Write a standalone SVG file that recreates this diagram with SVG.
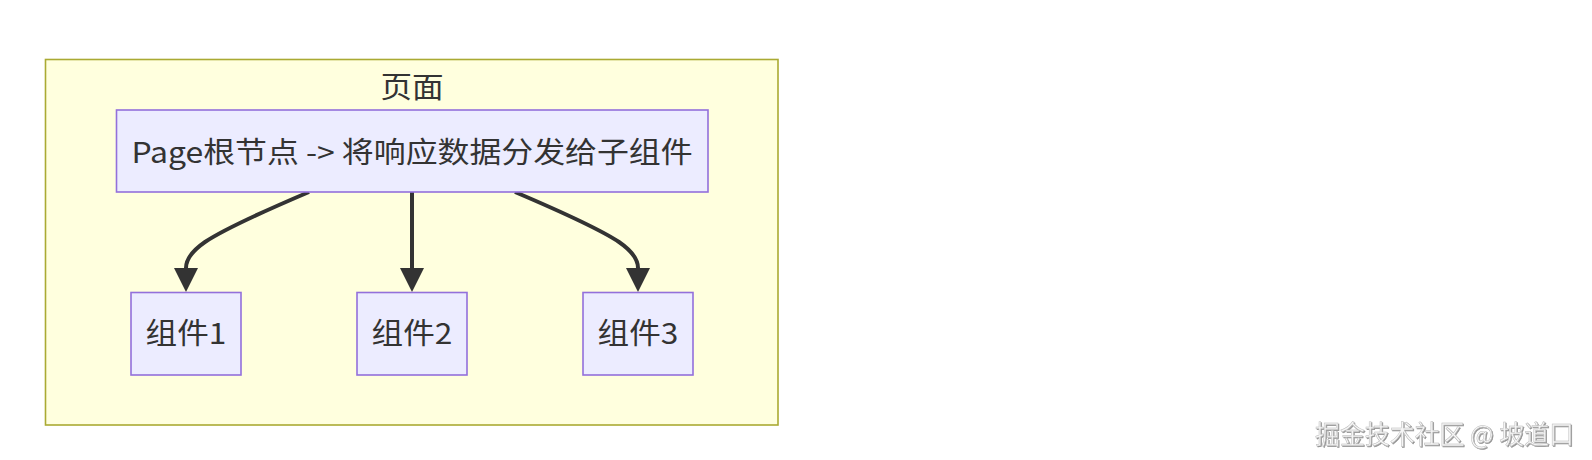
<svg xmlns="http://www.w3.org/2000/svg" width="1592" height="460" viewBox="0 0 1592 460">
  <style>
    .cluster { fill: #ffffde; stroke: #aaaa33; stroke-width: 1.6; }
    .node rect { fill: #ececff; stroke: #9370db; stroke-width: 1.6; }
    .lbl { font-family: "Noto Sans CJK SC", "Noto Sans", sans-serif; font-size: 29px; fill: #333333; text-anchor: middle; }
    .edge { fill: none; stroke: #333333; stroke-width: 4; }
    .wm { font-family: "Noto Sans CJK SC", "Noto Sans", sans-serif; font-size: 26px; fill: #f6f6f6; stroke: #b8b8b8; stroke-width: 0.5; }
  </style>
  <defs>
    <marker id="arrow" viewBox="0 0 24 24" refX="0" refY="12" markerWidth="24" markerHeight="24" markerUnits="userSpaceOnUse" orient="auto">
      <path d="M0,0 L24,12 L0,24 z" fill="#333333"/>
    </marker>
    <filter id="emboss" x="-5%" y="-20%" width="110%" height="140%">
      <feDropShadow dx="1" dy="1" stdDeviation="0.6" flood-color="#666666" flood-opacity="0.7"/>
    </filter>
  </defs>
  <rect width="1592" height="460" fill="#ffffff"/>

  <g id="cluster-page">
    <rect class="cluster" x="45.5" y="59.5" width="732.5" height="365.5"/>
    <text class="lbl" transform="translate(412,97.5) scale(1.09,1)">页面</text>
  </g>

  <g id="edges">
    <path class="edge" d="M309,192 C262,212 226,228 205,242 C192,251 186,259 186,268" marker-end="url(#arrow)"/>
    <path class="edge" d="M412,192 L412,268" marker-end="url(#arrow)"/>
    <path class="edge" d="M515,192 C562,212 598,228 619,242 C632,251 638,259 638,268" marker-end="url(#arrow)"/>
  </g>

  <g id="node-root" class="node">
    <rect x="116.5" y="110" width="591.5" height="82"/>
    <text class="lbl" transform="translate(412,163) scale(1.1,1)">Page根节点 -&gt; 将响应数据分发给子组件</text>
  </g>
  <g id="node-c1" class="node">
    <rect x="131" y="292.5" width="110" height="82.5"/>
    <text class="lbl" transform="translate(186,344) scale(1.09,1)">组件1</text>
  </g>
  <g id="node-c2" class="node">
    <rect x="357" y="292.5" width="110" height="82.5"/>
    <text class="lbl" transform="translate(412,344) scale(1.09,1)">组件2</text>
  </g>
  <g id="node-c3" class="node">
    <rect x="583" y="292.5" width="110" height="82.5"/>
    <text class="lbl" transform="translate(638,344) scale(1.09,1)">组件3</text>
  </g>

  <g id="watermark">
    <text class="wm" x="1315" y="444" textLength="259" lengthAdjust="spacingAndGlyphs" filter="url(#emboss)">掘金技术社区 @ 坡道口</text>
  </g>
</svg>
